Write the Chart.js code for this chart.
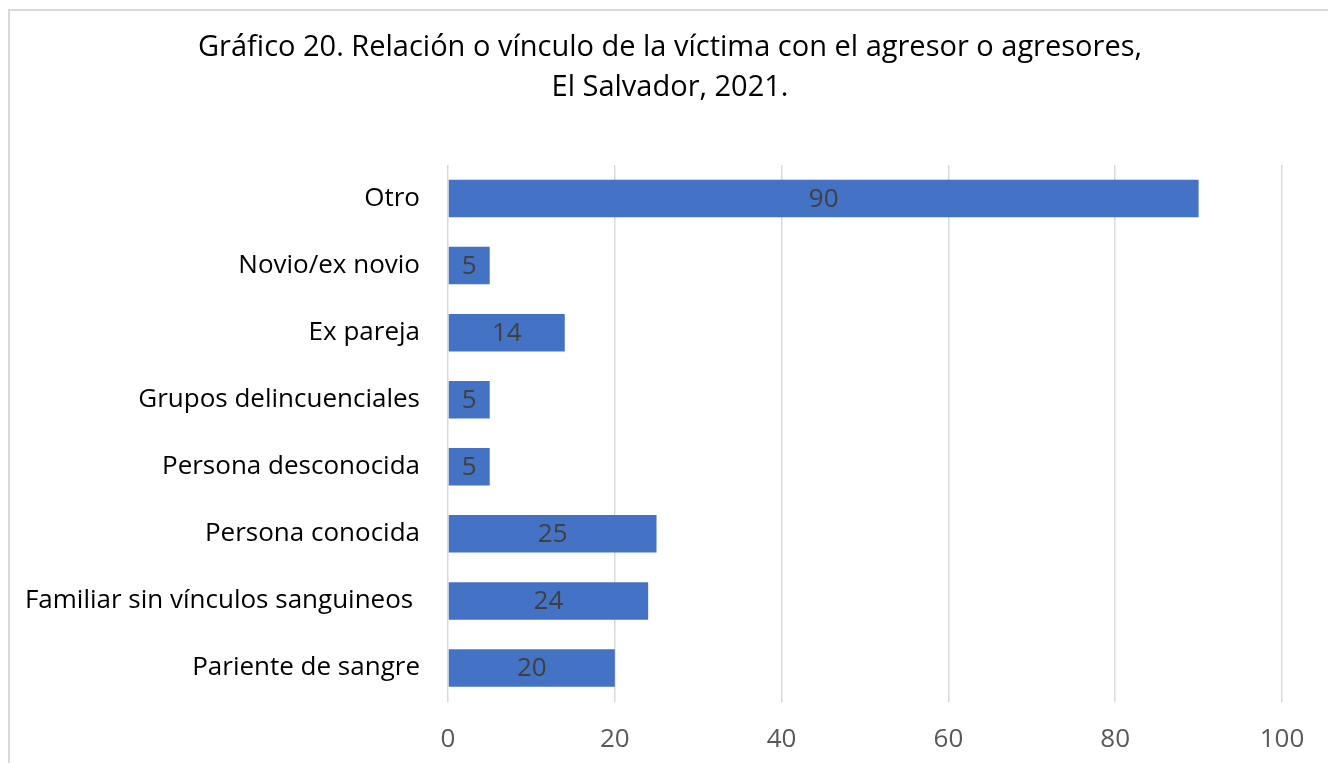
<!DOCTYPE html>
<html>
<head>
<meta charset="utf-8">
<script src="https://cdn.jsdelivr.net/npm/chart.js@4.4.0/dist/chart.umd.min.js"></script>
<style>
  html, body { margin: 0; padding: 0; background: #fff; overflow: hidden; }
  #wrap { position: relative; width: 1328px; height: 763px; }
  #frame { position: absolute; left: 8px; top: 9px; width: 1400px; height: 900px; border: 2px solid #d9d9d9; pointer-events: none; }
</style>
</head>
<body>
<div id="wrap">
  <canvas id="myChart" width="1328" height="763"></canvas>
  <div id="frame"></div>
</div>
<script>
// categories, top to bottom as in the picture
const categories = [
  'Otro',
  'Novio/ex novio',
  'Ex pareja',
  'Grupos delincuenciales',
  'Persona desconocida',
  'Persona conocida',
  'Familiar sin vínculos sanguineos ',
  'Pariente de sangre'
];
const values = [90, 5, 14, 5, 5, 25, 24, 20];
const xTicks = [0, 20, 40, 60, 80, 100];
const titleLines = [
  'Gráfico 20. Relación o vínculo de la víctima con el agresor o agresores,',
  'El Salvador, 2021.'
];

const FONT = '"Open Sans", Lato, sans-serif';

// title drawn by hand so the plot area can be pinned
const titlePlugin = {
  id: 'titleLines',
  afterDraw(chart) {
    const c = chart.ctx;
    c.save();
    c.fillStyle = '#000';
    c.font = '29px ' + FONT;
    c.textAlign = 'center';
    c.textBaseline = 'middle';
    c.fillText(titleLines[0], 670, 48);
    c.fillText(titleLines[1], 670, 88);
    c.restore();
  }
};

// value labels in the middle of each bar
const barLabels = {
  id: 'barLabels',
  afterDatasetsDraw(chart) {
    const c = chart.ctx;
    const meta = chart.getDatasetMeta(0);
    c.save();
    c.fillStyle = '#404040';
    c.font = '26px ' + FONT;
    c.textAlign = 'center';
    c.textBaseline = 'middle';
    meta.data.forEach((bar, i) => {
      const mid = (bar.base + bar.x) / 2;
      c.fillText(String(values[i]), mid, bar.y + 1);
    });
    c.restore();
  }
};

const ctx = document.getElementById('myChart').getContext('2d');
const chart = new Chart(ctx, {
  type: 'bar',
  data: {
    labels: categories,
    datasets: [{
      data: values,
      backgroundColor: '#4472c4',
      borderWidth: 0,
      barPercentage: 0.56,
      categoryPercentage: 1
    }]
  },
  options: {
    indexAxis: 'y',
    responsive: false,
    animation: false,
    layout: { padding: { top: 165, right: 46, left: 0, bottom: 0 } },
    plugins: {
      legend: { display: false },
      title: { display: false },
      tooltip: { enabled: false }
    },
    scales: {
      x: {
        min: 0,
        max: 100,
        afterBuildTicks(scale) { scale.ticks = xTicks.map(v => ({ value: v })); },
        afterFit(scale) { scale.height = 61.5; },
        grid: { color: '#d9d9d9', lineWidth: 1.5, drawTicks: false },
        border: { display: false },
        ticks: { color: '#595959', font: { family: FONT, size: 26 }, padding: 22 }
      },
      y: {
        afterFit(scale) { scale.width = 448; },
        grid: { display: false },
        border: { display: false },
        ticks: { color: '#000', font: { family: FONT, size: 26 }, padding: 20 }
      }
    }
  },
  plugins: [titlePlugin, barLabels]
});
</script>
</body>
</html>
